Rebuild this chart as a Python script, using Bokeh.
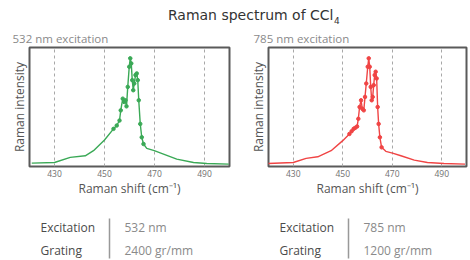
from bokeh.plotting import figure
from bokeh.layouts import column, row
from bokeh.models import Range1d, FixedTicker, ColumnDataSource
from bokeh.core.properties import value
from bokeh.embed import file_html
from bokeh.resources import INLINE

# ---------------- data ----------------
title_main = "Raman spectrum of CCl"
title_sub = "4"
xticks = [430, 450, 470, 490]

green_x = [420.9, 430.0, 436.3, 442.3, 445.6, 450.0, 453.6, 454.9, 456.0, 456.5, 457.3, 457.9,
           458.4, 458.8, 459.3, 459.9, 460.3, 460.7, 461.1, 461.5, 461.9, 462.4, 462.9, 463.3,
           463.7, 464.3, 464.9, 465.6, 466.9, 469.9, 473.6, 478.9, 485.6, 490.9, 499.7]
green_y = [0.031, 0.037, 0.084, 0.099, 0.146, 0.245, 0.348, 0.379, 0.425, 0.519, 0.627, 0.596,
           0.612, 0.556, 0.736, 0.922, 1.000, 0.953, 0.798, 0.705, 0.767, 0.845, 0.860, 0.798,
           0.612, 0.394, 0.270, 0.208, 0.168, 0.146, 0.115, 0.068, 0.037, 0.028, 0.022]

red_x = [419.8, 430.0, 435.2, 439.9, 445.3, 450.0, 452.7, 453.6, 454.4, 455.0, 455.8, 456.3,
         456.8, 457.4, 457.9, 458.5, 459.0, 459.5, 460.1, 460.5, 460.9, 461.3, 461.7, 462.1,
         462.5, 462.9, 463.3, 463.7, 464.1, 464.5, 465.0, 465.7, 467.4, 470.1, 473.5, 478.9,
         484.2, 490.9, 499.4]
red_y = [0.028, 0.037, 0.075, 0.090, 0.146, 0.239, 0.301, 0.326, 0.348, 0.357, 0.370, 0.441,
         0.550, 0.612, 0.534, 0.519, 0.643, 0.767, 0.922, 1.000, 0.922, 0.736, 0.612, 0.643,
         0.752, 0.845, 0.876, 0.814, 0.550, 0.394, 0.270, 0.177, 0.140, 0.124, 0.099, 0.059,
         0.037, 0.028, 0.022]

panel_titles = ["532 nm excitation", "785 nm excitation"]
row_labels = ["Excitation", "Grating"]
left_values = ["532 nm", "2400 gr/mm"]
right_values = ["785 nm", "1200 gr/mm"]

FONT = "Open Sans"
TITLE_FONT = "DejaVu Sans"


def bare(w, h, yr):
    p = figure(width=w, height=h, x_range=Range1d(0, w), y_range=yr, title=None,
               x_axis_type=None, y_axis_type=None, toolbar_location=None,
               output_backend="svg", min_border=0)
    p.outline_line_color = None
    p.grid.visible = False
    return p


# ---------------- title strip ----------------
tp = bare(470, 26, Range1d(26, 0))
tp.text(x=[333], y=[14.8], text=[title_main], text_align="right", text_baseline="middle",
        text_font=value(TITLE_FONT), text_font_size="14px", text_color="#333333")
tp.text(x=[333.5], y=[19.8], text=[title_sub], text_align="left", text_baseline="middle",
        text_font=value(TITLE_FONT), text_font_size="9px", text_color="#333333")


# ---------------- spectrum panels ----------------
def spectrum(xs, ys, color, title, w, bl, br, toff):
    p = figure(width=w, height=174, x_range=Range1d(420, 500), y_range=Range1d(0, 1.10),
               toolbar_location=None, output_backend="svg",
               min_border_left=bl, min_border_right=br, min_border_top=21, min_border_bottom=34)
    p.title.text = title
    p.title.text_font = FONT
    p.title.text_font_size = "11.5px"
    p.title.text_font_style = "normal"
    p.title.text_color = "#8a8a8a"
    p.title.offset = toff
    p.title.standoff = 4
    p.outline_line_color = "#5a5a5a"
    p.outline_line_width = 2
    p.ygrid.visible = False
    p.xgrid.ticker = FixedTicker(ticks=xticks)
    p.xgrid.grid_line_color = "#a8a8a8"
    p.xgrid.grid_line_dash = "3 3"
    p.xgrid.grid_line_width = 1
    p.xaxis.ticker = FixedTicker(ticks=xticks)
    p.xaxis.axis_line_color = None
    p.xaxis.major_tick_line_color = None
    p.xaxis.minor_tick_line_color = None
    p.xaxis.major_tick_out = 0
    p.xaxis.minor_tick_out = 0
    p.xaxis.major_label_standoff = 3
    p.xaxis.major_label_text_font = FONT
    p.xaxis.major_label_text_font_size = "8.5px"
    p.xaxis.major_label_text_color = "#707070"
    p.xaxis.axis_label = "Raman shift (cm⁻¹)"
    p.xaxis.axis_label_text_font = FONT
    p.xaxis.axis_label_text_font_size = "12px"
    p.xaxis.axis_label_text_font_style = "normal"
    p.xaxis.axis_label_text_color = "#555555"
    p.xaxis.axis_label_standoff = 0
    p.yaxis.ticker = FixedTicker(ticks=[])
    p.yaxis.axis_line_color = None
    p.yaxis.major_tick_line_color = None
    p.yaxis.minor_tick_line_color = None
    p.yaxis.major_tick_out = 0
    p.yaxis.minor_tick_out = 0
    p.yaxis.major_label_standoff = 0
    p.yaxis.major_label_text_font_size = "0px"
    p.yaxis.axis_label = "Raman intensity"
    p.yaxis.axis_label_text_font = FONT
    p.yaxis.axis_label_text_font_size = "12px"
    p.yaxis.axis_label_text_font_style = "normal"
    p.yaxis.axis_label_text_color = "#555555"
    p.yaxis.axis_label_standoff = 2
    src = ColumnDataSource(dict(x=xs, y=ys))
    p.line("x", "y", source=src, line_color=color, line_width=1.4)
    pk = ColumnDataSource(dict(x=[a for a in xs if 452 <= a <= 466],
                               y=[b for a, b in zip(xs, ys) if 452 <= a <= 466]))
    p.scatter("x", "y", source=pk, size=3.5, color=color)
    return p


p1 = spectrum(green_x, green_y, "#3aa956", panel_titles[0], 239, 29, 10, -17)
p2 = spectrum(red_x, red_y, "#f04444", panel_titles[1], 231, 29, 4, -15)

# ---------------- parameter table ----------------
tb = bare(470, 60, Range1d(60, 0))
lab_src = ColumnDataSource(dict(x=[40, 40, 279, 279], y=[26.5, 50, 26.5, 50],
                                t=row_labels + row_labels))
val_src = ColumnDataSource(dict(x=[124, 124, 363, 363], y=[26.5, 50, 26.5, 50],
                                t=left_values + right_values))
tb.text(x="x", y="y", text="t", source=lab_src, text_baseline="middle",
        text_font=value(FONT), text_font_size="12px", text_color="#4a4a4a")
tb.text(x="x", y="y", text="t", source=val_src, text_baseline="middle",
        text_font=value(FONT), text_font_size="12px", text_color="#8a8a8a")
tb.segment(x0=[109, 348], y0=[18, 18], x1=[109, 348], y1=[58, 58],
           line_color="#999999", line_width=1.5)

layout = column(tp, row(p1, p2), tb)

open("out.html", "w").write(file_html(layout, INLINE))
